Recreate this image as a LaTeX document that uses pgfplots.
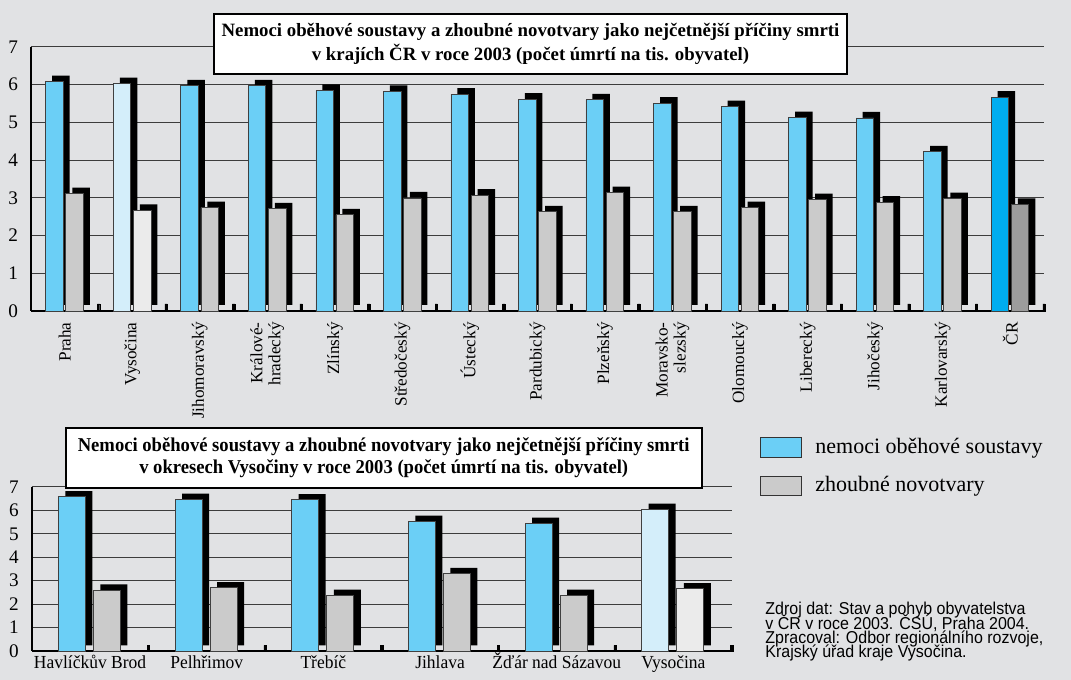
\documentclass[border=0pt]{standalone}
\usepackage{fontspec}
\setmainfont{Liberation Serif}
\newfontfamily\notefont[FakeStretch=0.93]{Liberation Sans}
\newfontfamily\condfont[FakeStretch=0.95]{Liberation Serif}
\newcommand\tightlines{\lineskiplimit=-5pt\relax}
\usepackage{pgfplots}
\pgfplotsset{compat=1.18}

\definecolor{bgc}{HTML}{E1E2E4}
\definecolor{obeh}{HTML}{6BCFF6}
\definecolor{obehV}{HTML}{D4EEFA}
\definecolor{obehCR}{HTML}{00ADEF}
\definecolor{zhoub}{HTML}{CBCBCB}
\definecolor{zhoubV}{HTML}{EBEBEB}
\definecolor{zhoubCR}{HTML}{9C9C9C}
\definecolor{gridc}{HTML}{3C3C3C}

\pgfplotsset{
  chart/.style={
    scale only axis, ymin=0, ymax=7, ytick={0,...,7},
    axis x line*=bottom, axis y line*=left,
    x axis line style={line width=1.3pt},
    y axis line style={line width=1pt},
    ymajorgrids, grid style={gridc, line width=0.5pt},
    tick style={draw=none}, major tick length=0pt,
    yticklabel shift=3pt,
    yticklabel style={font=\fontsize{9.6}{10}\selectfont},
    /pgf/number format/assume math mode=true,
    clip=false,
  },
  sbar/.style 2 args={ybar, bar width=#1, bar shift=#2, draw=black!75, line width=0.35pt},
  shade/.style n args={4}{ybar, bar width=#1, bar shift=#2, fill=black, draw=none, xshift=#3, yshift=#4},
  divider/.style={ybar, bar width=1.2pt, bar shift=0pt, fill=black, draw=black, line width=0.2pt},
}

\begin{document}
\begin{tikzpicture}
\fill[bgc] (0,0) rectangle (535.5pt,340pt);
\useasboundingbox (0,0) rectangle (535.5pt,340pt);

% kraje
\begin{axis}[chart,
  at={(15.5pt,184.5pt)}, anchor=south west,
  width=506.5pt, height=132pt,
  xmin=-0.5, xmax=14.5,
  xtick={0,...,14},
  xticklabels={Praha, Vysočina, Jihomoravský, {Králové-\\hradecký}, Zlínský,
    Středočeský, Ústecký, Pardubický, Plzeňský, {Moravsko-\\slezský},
    Olomoucký, Liberecký, Jihočeský, Karlovarský, ČR},
  xticklabel shift=5.5pt,
  xticklabel style={rotate=90, anchor=east, inner sep=0pt, align=right,
    font=\fontsize{8.6}{9}\selectfont},
]
\addplot[shade={8.75pt}{-5.15pt}{3.25pt}{3pt}] coordinates {
  (0,6.08) (1,6.03) (2,5.97) (3,5.97) (4,5.85) (5,5.82) (6,5.75) (7,5.62)
  (8,5.60) (9,5.51) (10,5.42) (11,5.13) (12,5.12) (13,4.22) (14,5.67)};
\addplot[shade={8.75pt}{4.9pt}{3.25pt}{3pt}] coordinates {
  (0,3.11) (1,2.67) (2,2.74) (3,2.71) (4,2.55) (5,3.00) (6,3.07) (7,2.63)
  (8,3.14) (9,2.63) (10,2.74) (11,2.95) (12,2.89) (13,2.98) (14,2.83)};
\addplot[sbar={8.75pt}{-5.15pt}, fill=obeh] coordinates {
  (0,6.08) (2,5.97) (3,5.97) (4,5.85) (5,5.82) (6,5.75) (7,5.62)
  (8,5.60) (9,5.51) (10,5.42) (11,5.13) (12,5.12) (13,4.22)};
\addplot[sbar={8.75pt}{-5.15pt}, fill=obehV] coordinates {(1,6.03)};
\addplot[sbar={8.75pt}{-5.15pt}, fill=obehCR] coordinates {(14,5.67)};
\addplot[sbar={8.75pt}{4.9pt}, fill=zhoub] coordinates {
  (0,3.11) (2,2.74) (3,2.71) (4,2.55) (5,3.00) (6,3.07) (7,2.63)
  (8,3.14) (9,2.63) (10,2.74) (11,2.95) (12,2.89) (13,2.98)};
\addplot[sbar={8.75pt}{4.9pt}, fill=zhoubV] coordinates {(1,2.67)};
\addplot[sbar={8.75pt}{4.9pt}, fill=zhoubCR] coordinates {(14,2.83)};
% separators between the regions
\addplot[divider] coordinates {
  (0.5,0.19) (1.5,0.19) (2.5,0.19) (3.5,0.19) (4.5,0.19) (5.5,0.19) (6.5,0.19)
  (7.5,0.19) (8.5,0.19) (9.5,0.19) (10.5,0.19) (11.5,0.19) (12.5,0.19)
  (13.5,0.19) (14.5,0.19)};
\end{axis}

% okresy
\begin{axis}[chart,
  at={(15.85pt,14.5pt)}, anchor=south west,
  width=350pt, height=82pt,
  xmin=-0.5, xmax=5.5,
  xtick={0,...,5},
  xticklabels={Havlíčkův Brod, Pelhřimov, Třebíč, Jihlava, Žďár nad Sázavou, Vysočina},
  xticklabel shift=9pt,
  xticklabel style={anchor=base, font=\condfont\fontsize{9.2}{10}\selectfont},
]
\addplot[shade={13.5pt}{-9.1pt}{3.5pt}{2.8pt}] coordinates {
  (0,6.58) (1,6.48) (2,6.46) (3,5.54) (4,5.45) (5,6.05)};
\addplot[shade={13.5pt}{8.45pt}{3.5pt}{2.8pt}] coordinates {
  (0,2.60) (1,2.70) (2,2.38) (3,3.31) (4,2.38) (5,2.66)};
\addplot[sbar={13.5pt}{-9.1pt}, fill=obeh] coordinates {
  (0,6.58) (1,6.48) (2,6.46) (3,5.54) (4,5.45)};
\addplot[sbar={13.5pt}{-9.1pt}, fill=obehV] coordinates {(5,6.05)};
\addplot[sbar={13.5pt}{8.45pt}, fill=zhoub] coordinates {
  (0,2.60) (1,2.70) (2,2.38) (3,3.31) (4,2.38)};
\addplot[sbar={13.5pt}{8.45pt}, fill=zhoubV] coordinates {(5,2.66)};
\addplot[divider] coordinates {
  (0.5,0.24) (1.5,0.24) (2.5,0.24) (3.5,0.24) (4.5,0.24) (5.5,0.24)};
\end{axis}

\node[draw=black, line width=1.2pt, fill=white, minimum width=316.5pt,
  minimum height=30pt, align=center, inner sep=0pt,
  font=\bfseries\fontsize{9.4}{12}\selectfont] at (265.25pt,318pt)
  {Nemoci oběhové soustavy a zhoubné novotvary jako nejčetnější příčiny smrti\\
   v krajích ČR v roce 2003 (počet úmrtí na tis. obyvatel)};
\node[draw=black, line width=1.2pt, fill=white, minimum width=318pt,
  minimum height=30pt, align=center, inner sep=0pt,
  font=\condfont\bfseries\fontsize{9.8}{11}\selectfont] at (191.85pt,111pt)
  {Nemoci oběhové soustavy a zhoubné novotvary jako nejčetnější příčiny smrti\\
   v okresech Vysočiny v roce 2003 (počet úmrtí na tis. obyvatel)};

\filldraw[fill=obeh, draw=black!80, line width=0.5pt] (380.35pt,111pt) rectangle (400.5pt,121pt);
\filldraw[fill=zhoub, draw=black!80, line width=0.5pt] (380.35pt,92pt) rectangle (400.5pt,101.65pt);
\node[anchor=west, inner sep=0pt, font=\fontsize{11}{13}\selectfont] at (407.5pt,116pt) {nemoci oběhové soustavy};
\node[anchor=west, inner sep=0pt, font=\fontsize{11}{13}\selectfont] at (407.5pt,96.8pt) {zhoubné novotvary};

\node[anchor=north west, inner sep=0pt, align=left,
  font={\notefont\fontsize{8.6}{7.15}\selectfont\tightlines}] at (382.5pt,39pt)
  {Zdroj dat: Stav a pohyb obyvatelstva\\
   v ČR v roce 2003. ČSÚ, Praha 2004.\\
   Zpracoval: Odbor regionálního rozvoje,\\
   Krajský úřad kraje Vysočina.};
\end{tikzpicture}
\end{document}
